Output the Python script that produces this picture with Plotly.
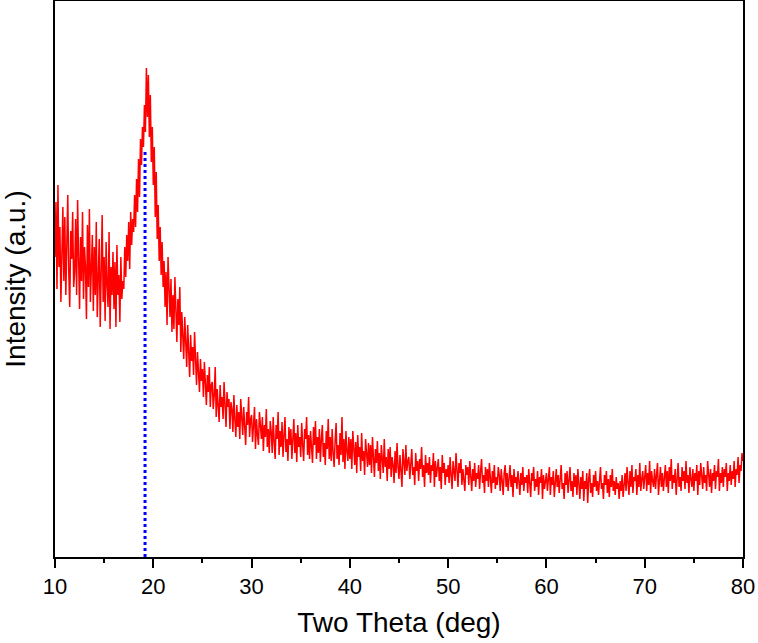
import plotly.graph_objects as go

# Two-theta grid (deg), step 0.1
theta_start = 10.0
theta_step = 0.1

# Intensity (a.u.), 1 deg per line
intensity = [
    300, 355, 268, 372, 290, 330, 255, 318, 350, 276,   # 10
    340, 262, 300, 362, 285, 250, 326, 298, 345, 270,   # 11
    285, 338, 262, 357, 300, 248, 320, 276, 345, 258,   # 12
    310, 290, 238, 332, 270, 348, 255, 300, 322, 246,   # 13
    310, 262, 335, 240, 296, 318, 230, 288, 342, 255,   # 14
    300, 236, 315, 272, 250, 325, 228, 290, 262, 305,   # 15
    248, 295, 230, 312, 262, 282, 235, 300, 258, 276,   # 16
    268, 310, 280, 322, 296, 335, 288, 345, 312, 338,   # 17
    325, 362, 330, 378, 345, 398, 360, 418, 392, 430,   # 18
    410, 452, 425, 489, 440, 482, 420, 462, 395, 430,   # 19
    372, 410, 340, 385, 318, 352, 296, 330, 282, 315,   # 20
    270, 296, 250, 285, 232, 300, 262, 240, 278, 225,   # 21
    262, 228, 280, 240, 215, 258, 232, 270, 205, 245,   # 22
    225, 198, 240, 212, 190, 232, 205, 180, 222, 196,   # 23
    210, 182, 225, 190, 172, 205, 180, 165, 198, 176,   # 24
    188, 160, 195, 170, 152, 182, 165, 190, 150, 172,   # 25
    175, 148, 162, 190, 140, 168, 152, 135, 172, 150,   # 26
    160, 138, 175, 145, 130, 165, 150, 158, 128, 155,   # 27
    148, 125, 162, 138, 120, 152, 130, 145, 118, 158,   # 28
    135, 122, 150, 128, 112, 145, 132, 160, 120, 138,   # 29
    142, 115, 130, 150, 108, 138, 122, 112, 145, 125,   # 30
    118, 140, 106, 132, 120, 148, 110, 128, 104, 136,   # 31
    125, 104, 140, 115, 98, 132, 118, 145, 102, 126,    # 32
    110, 135, 100, 122, 140, 105, 118, 96, 130, 112,    # 33
    128, 98, 116, 138, 104, 124, 95, 132, 110, 120,     # 34
    100, 134, 112, 96, 128, 118, 140, 102, 122, 98,     # 35
    126, 108, 94, 130, 112, 136, 98, 120, 104, 128,     # 36
    95, 118, 132, 100, 114, 92, 126, 108, 138, 98,      # 37
    120, 96, 128, 104, 90, 116, 134, 98, 112, 92,       # 38
    124, 102, 140, 95, 118, 88, 126, 106, 96, 120,      # 39
    98, 118, 88, 126, 104, 92, 115, 84, 122, 100,       # 40
    110, 86, 124, 96, 106, 82, 118, 100, 90, 114,       # 41
    92, 112, 84, 120, 98, 80, 108, 94, 116, 86,         # 42
    104, 78, 112, 96, 84, 118, 90, 100, 76, 108,        # 43
    88, 110, 80, 100, 92, 74, 106, 84, 114, 90,         # 44
    78, 102, 88, 70, 108, 94, 82, 112, 86, 96,          # 45
    100, 78, 94, 108, 82, 90, 72, 104, 86, 96,          # 46
    76, 98, 88, 110, 80, 92, 70, 102, 84, 94,           # 47
    82, 100, 74, 92, 86, 104, 70, 96, 80, 88,           # 48
    98, 76, 90, 68, 102, 84, 94, 72, 88, 80,            # 49
    92, 74, 100, 82, 68, 96, 86, 76, 104, 80,           # 50
    70, 94, 84, 98, 72, 88, 78, 66, 92, 82,             # 51
    90, 72, 96, 80, 66, 88, 76, 94, 70, 84,             # 52
    78, 92, 68, 86, 98, 74, 82, 64, 90, 76,             # 53
    88, 70, 94, 78, 64, 86, 74, 92, 68, 80,             # 54
    72, 90, 82, 66, 88, 76, 62, 84, 92, 70,             # 55
    84, 66, 78, 92, 70, 82, 60, 88, 74, 80,             # 56
    68, 86, 76, 62, 84, 72, 90, 66, 80, 74,             # 57
    82, 64, 88, 72, 60, 84, 76, 90, 66, 78,             # 58
    70, 86, 62, 80, 74, 88, 58, 82, 68, 76,             # 59
    84, 66, 78, 90, 62, 80, 72, 86, 60, 76,             # 60
    88, 70, 82, 64, 78, 92, 68, 74, 58, 84,             # 61
    72, 86, 64, 80, 90, 66, 76, 60, 84, 70,             # 62
    82, 62, 88, 74, 58, 80, 68, 86, 56, 76,             # 63
    68, 84, 54, 78, 88, 64, 74, 60, 82, 70,             # 64
    86, 66, 76, 62, 80, 90, 68, 74, 58, 82,             # 65
    72, 86, 64, 78, 60, 82, 70, 88, 66, 76,             # 66
    62, 80, 68, 74, 58, 76, 66, 82, 60, 72,             # 67
    84, 66, 90, 74, 62, 86, 70, 92, 64, 80,             # 68
    76, 88, 62, 82, 70, 94, 66, 78, 86, 68,             # 69
    80, 92, 66, 84, 72, 96, 64, 86, 76, 70,             # 70
    88, 68, 82, 94, 62, 78, 90, 70, 84, 66,             # 71
    80, 92, 70, 86, 64, 90, 76, 98, 68, 82,             # 72
    74, 88, 62, 84, 94, 70, 80, 66, 90, 76,             # 73
    86, 68, 96, 74, 82, 64, 90, 78, 70, 88,             # 74
    66, 84, 76, 92, 62, 86, 72, 94, 80, 68,             # 75
    90, 74, 82, 66, 96, 78, 70, 88, 64, 84,             # 76
    76, 92, 68, 86, 80, 98, 66, 84, 74, 90,             # 77
    70, 88, 80, 94, 66, 84, 76, 92, 72, 86,             # 78
    78, 96, 70, 88, 82, 100, 74, 92, 86, 104,           # 79
    96,                                                  # 80
]
two_theta = [round(theta_start + i * theta_step, 2) for i in range(len(intensity))]

# Reference peak position marker
peak_theta = [19.16, 19.16]
peak_marker = [0, 407]

x_ticks = [10, 20, 30, 40, 50, 60, 70, 80]

fig = go.Figure()
fig.add_trace(go.Scatter(
    x=two_theta, y=intensity, mode="lines",
    line=dict(color="#ff0000", width=1.5), showlegend=False,
))
fig.add_trace(go.Scatter(
    x=peak_theta, y=peak_marker, mode="lines",
    line=dict(color="#0000ff", width=3, dash="dot"), showlegend=False,
))

fig.update_layout(
    width=758, height=643,
    margin=dict(l=55, r=15, t=1, b=86),
    paper_bgcolor="white", plot_bgcolor="white",
    font=dict(family="Liberation Sans, Arial, sans-serif", color="black"),
)
fig.update_xaxes(
    range=[10, 80], tickvals=x_ticks, ticktext=[str(v) for v in x_ticks],
    ticks="outside", ticklen=9, tickwidth=1.5, tickcolor="black",
    ticklabelstandoff=0,
    minor=dict(dtick=5, tick0=5, ticks="outside", ticklen=4, tickwidth=1.5, tickcolor="black"),
    showline=True, linecolor="black", linewidth=1.5, mirror=True,
    showgrid=False, zeroline=False, automargin=False,
    tickfont=dict(size=22),
    title=dict(text="Two Theta (deg)", font=dict(size=28), standoff=14),
)
fig.update_yaxes(
    range=[0, 556], showticklabels=False, ticks="",
    showline=True, linecolor="black", linewidth=1.5, mirror=True,
    showgrid=False, zeroline=False, automargin=False,
    title=dict(text="Intensity (a.u.)", font=dict(size=28), standoff=25),
)

fig.write_html(
    "out.html",
    config={"displayModeBar": False},
    post_script="document.body.style.margin='0';document.body.style.padding='0';",
)
